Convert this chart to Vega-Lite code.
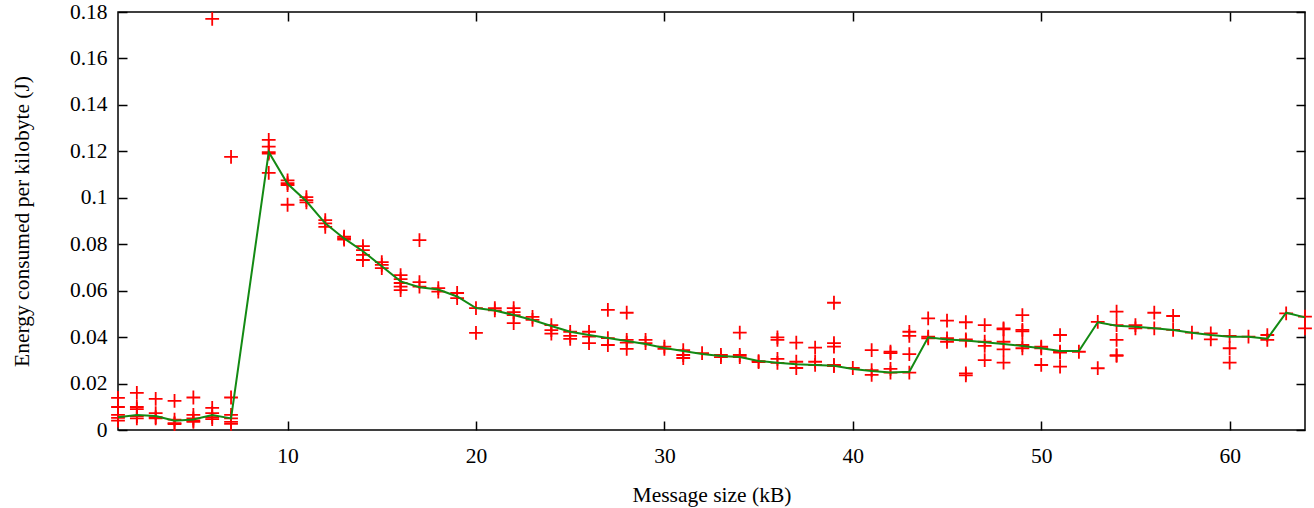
{
  "$schema": "https://vega.github.io/schema/vega-lite/v6.json",
  "autosize": "none",
  "width": 1187,
  "height": 418,
  "padding": {"left": 118, "top": 12, "right": 9, "bottom": 78},
  "background": "white",
  "config": {
    "view": {"stroke": "black", "strokeWidth": 1.5},
    "font": "Liberation Serif",
    "axis": {
      "labelFont": "Liberation Serif",
      "titleFont": "Liberation Serif",
      "labelFontSize": 21.5,
      "titleFontSize": 21.5,
      "titleFontWeight": "normal",
      "labelColor": "black",
      "titleColor": "black",
      "tickColor": "black",
      "tickWidth": 1.5,
      "grid": false,
      "domain": false
    }
  },
  "datasets": {
    "pts": [
      {"x": 1, "y": 0.0138}, {"x": 1, "y": 0.0099}, {"x": 1, "y": 0.0065}, {"x": 1, "y": 0.0052}, {"x": 1, "y": 0.004},
      {"x": 2, "y": 0.016}, {"x": 2, "y": 0.0099}, {"x": 2, "y": 0.009}, {"x": 2, "y": 0.006}, {"x": 2, "y": 0.005},
      {"x": 3, "y": 0.0134}, {"x": 3, "y": 0.0073}, {"x": 3, "y": 0.0055}, {"x": 3, "y": 0.005},
      {"x": 4, "y": 0.0125}, {"x": 4, "y": 0.0045}, {"x": 4, "y": 0.003}, {"x": 4, "y": 0.0025},
      {"x": 5, "y": 0.014}, {"x": 5, "y": 0.0065}, {"x": 5, "y": 0.005}, {"x": 5, "y": 0.004}, {"x": 5, "y": 0.0035},
      {"x": 6, "y": 0.177}, {"x": 6, "y": 0.0095}, {"x": 6, "y": 0.0073}, {"x": 6, "y": 0.0055}, {"x": 6, "y": 0.0047},
      {"x": 7, "y": 0.1176}, {"x": 7, "y": 0.014}, {"x": 7, "y": 0.0065}, {"x": 7, "y": 0.005}, {"x": 7, "y": 0.0035}, {"x": 7, "y": 0.0026},
      {"x": 9, "y": 0.1249}, {"x": 9, "y": 0.122}, {"x": 9, "y": 0.1197}, {"x": 9, "y": 0.119}, {"x": 9, "y": 0.1107},
      {"x": 10, "y": 0.1075}, {"x": 10, "y": 0.1063}, {"x": 10, "y": 0.1055}, {"x": 10, "y": 0.097},
      {"x": 11, "y": 0.1003}, {"x": 11, "y": 0.099}, {"x": 11, "y": 0.098},
      {"x": 12, "y": 0.0904}, {"x": 12, "y": 0.089}, {"x": 12, "y": 0.0875},
      {"x": 13, "y": 0.0833}, {"x": 13, "y": 0.0826}, {"x": 13, "y": 0.082},
      {"x": 14, "y": 0.0792}, {"x": 14, "y": 0.0775}, {"x": 14, "y": 0.0754}, {"x": 14, "y": 0.0732},
      {"x": 15, "y": 0.0723}, {"x": 15, "y": 0.0711}, {"x": 15, "y": 0.0697},
      {"x": 16, "y": 0.0667}, {"x": 16, "y": 0.065}, {"x": 16, "y": 0.0633}, {"x": 16, "y": 0.0617}, {"x": 16, "y": 0.0602},
      {"x": 17, "y": 0.0818}, {"x": 17, "y": 0.0637}, {"x": 17, "y": 0.0617},
      {"x": 18, "y": 0.0611}, {"x": 18, "y": 0.0596},
      {"x": 19, "y": 0.059}, {"x": 19, "y": 0.0568},
      {"x": 20, "y": 0.0525}, {"x": 20, "y": 0.0418},
      {"x": 21, "y": 0.0525}, {"x": 21, "y": 0.0515},
      {"x": 22, "y": 0.0525}, {"x": 22, "y": 0.0508}, {"x": 22, "y": 0.0495}, {"x": 22, "y": 0.046},
      {"x": 23, "y": 0.0487}, {"x": 23, "y": 0.0474},
      {"x": 24, "y": 0.0452}, {"x": 24, "y": 0.043}, {"x": 24, "y": 0.0415},
      {"x": 25, "y": 0.0423}, {"x": 25, "y": 0.0405}, {"x": 25, "y": 0.0392},
      {"x": 26, "y": 0.0423}, {"x": 26, "y": 0.0402}, {"x": 26, "y": 0.0374},
      {"x": 27, "y": 0.0517}, {"x": 27, "y": 0.0396}, {"x": 27, "y": 0.0366},
      {"x": 28, "y": 0.0505}, {"x": 28, "y": 0.0388}, {"x": 28, "y": 0.0376}, {"x": 28, "y": 0.0349},
      {"x": 29, "y": 0.0388}, {"x": 29, "y": 0.0374},
      {"x": 30, "y": 0.0359}, {"x": 30, "y": 0.0349},
      {"x": 31, "y": 0.0344}, {"x": 31, "y": 0.0323}, {"x": 31, "y": 0.031},
      {"x": 32, "y": 0.0331},
      {"x": 33, "y": 0.0323}, {"x": 33, "y": 0.0314},
      {"x": 34, "y": 0.0419}, {"x": 34, "y": 0.0323}, {"x": 34, "y": 0.0314},
      {"x": 35, "y": 0.0297}, {"x": 35, "y": 0.0292},
      {"x": 36, "y": 0.0399}, {"x": 36, "y": 0.0388}, {"x": 36, "y": 0.0306}, {"x": 36, "y": 0.0289},
      {"x": 37, "y": 0.0376}, {"x": 37, "y": 0.0294}, {"x": 37, "y": 0.0267},
      {"x": 38, "y": 0.0355}, {"x": 38, "y": 0.0294}, {"x": 38, "y": 0.028},
      {"x": 39, "y": 0.0548}, {"x": 39, "y": 0.0374}, {"x": 39, "y": 0.0359}, {"x": 39, "y": 0.028}, {"x": 39, "y": 0.0275},
      {"x": 40, "y": 0.0267},
      {"x": 41, "y": 0.0344}, {"x": 41, "y": 0.0258}, {"x": 41, "y": 0.0237},
      {"x": 42, "y": 0.0337}, {"x": 42, "y": 0.0331}, {"x": 42, "y": 0.0263}, {"x": 42, "y": 0.0247},
      {"x": 43, "y": 0.0423}, {"x": 43, "y": 0.0405}, {"x": 43, "y": 0.0327}, {"x": 43, "y": 0.0247},
      {"x": 44, "y": 0.0481}, {"x": 44, "y": 0.0402}, {"x": 44, "y": 0.0395},
      {"x": 45, "y": 0.0471}, {"x": 45, "y": 0.0395}, {"x": 45, "y": 0.038},
      {"x": 46, "y": 0.0464}, {"x": 46, "y": 0.039}, {"x": 46, "y": 0.0385}, {"x": 46, "y": 0.0244}, {"x": 46, "y": 0.0235},
      {"x": 47, "y": 0.0452}, {"x": 47, "y": 0.038}, {"x": 47, "y": 0.0362}, {"x": 47, "y": 0.0301},
      {"x": 48, "y": 0.0438}, {"x": 48, "y": 0.0433}, {"x": 48, "y": 0.038}, {"x": 48, "y": 0.0347}, {"x": 48, "y": 0.029},
      {"x": 49, "y": 0.0495}, {"x": 49, "y": 0.0431}, {"x": 49, "y": 0.0425}, {"x": 49, "y": 0.0366}, {"x": 49, "y": 0.0352},
      {"x": 50, "y": 0.0359}, {"x": 50, "y": 0.0352}, {"x": 50, "y": 0.028},
      {"x": 51, "y": 0.0409}, {"x": 51, "y": 0.0337}, {"x": 51, "y": 0.0333}, {"x": 51, "y": 0.0273},
      {"x": 52, "y": 0.0337},
      {"x": 53, "y": 0.0466}, {"x": 53, "y": 0.0266},
      {"x": 54, "y": 0.051}, {"x": 54, "y": 0.0452}, {"x": 54, "y": 0.0388}, {"x": 54, "y": 0.0322}, {"x": 54, "y": 0.0319},
      {"x": 55, "y": 0.0452}, {"x": 55, "y": 0.0438},
      {"x": 56, "y": 0.0505}, {"x": 56, "y": 0.0438},
      {"x": 57, "y": 0.0491}, {"x": 57, "y": 0.0431},
      {"x": 58, "y": 0.0419},
      {"x": 59, "y": 0.0416}, {"x": 59, "y": 0.039},
      {"x": 60, "y": 0.0405}, {"x": 60, "y": 0.0352}, {"x": 60, "y": 0.029},
      {"x": 61, "y": 0.0402},
      {"x": 62, "y": 0.0409}, {"x": 62, "y": 0.0388},
      {"x": 63, "y": 0.0502},
      {"x": 64, "y": 0.0488}, {"x": 64, "y": 0.0438}
    ],
    "med": [
      {"x": 1, "y": 0.0055}, {"x": 2, "y": 0.0065}, {"x": 3, "y": 0.006}, {"x": 4, "y": 0.004},
      {"x": 5, "y": 0.0045}, {"x": 6, "y": 0.0065}, {"x": 7, "y": 0.005}, {"x": 9, "y": 0.1197},
      {"x": 10, "y": 0.106}, {"x": 11, "y": 0.0985}, {"x": 12, "y": 0.089}, {"x": 13, "y": 0.0825},
      {"x": 14, "y": 0.077}, {"x": 15, "y": 0.0705}, {"x": 16, "y": 0.064}, {"x": 17, "y": 0.0615},
      {"x": 18, "y": 0.0605}, {"x": 19, "y": 0.0575}, {"x": 20, "y": 0.0525}, {"x": 21, "y": 0.0515},
      {"x": 22, "y": 0.0495}, {"x": 23, "y": 0.0474}, {"x": 24, "y": 0.0448}, {"x": 25, "y": 0.0423},
      {"x": 26, "y": 0.0409}, {"x": 27, "y": 0.0396}, {"x": 28, "y": 0.0383}, {"x": 29, "y": 0.037},
      {"x": 30, "y": 0.0353}, {"x": 31, "y": 0.034}, {"x": 32, "y": 0.0327}, {"x": 33, "y": 0.0319},
      {"x": 34, "y": 0.0314}, {"x": 35, "y": 0.0297}, {"x": 36, "y": 0.029}, {"x": 37, "y": 0.0283},
      {"x": 38, "y": 0.028}, {"x": 39, "y": 0.0277}, {"x": 40, "y": 0.0263}, {"x": 41, "y": 0.0254},
      {"x": 42, "y": 0.0248}, {"x": 43, "y": 0.0251}, {"x": 44, "y": 0.0399}, {"x": 45, "y": 0.039},
      {"x": 46, "y": 0.0385}, {"x": 47, "y": 0.0378}, {"x": 48, "y": 0.037}, {"x": 49, "y": 0.0362},
      {"x": 50, "y": 0.0352}, {"x": 51, "y": 0.034}, {"x": 52, "y": 0.034}, {"x": 53, "y": 0.0464},
      {"x": 54, "y": 0.0449}, {"x": 55, "y": 0.0445}, {"x": 56, "y": 0.0438}, {"x": 57, "y": 0.0431},
      {"x": 58, "y": 0.0419}, {"x": 59, "y": 0.0409}, {"x": 60, "y": 0.0402}, {"x": 61, "y": 0.0402},
      {"x": 62, "y": 0.0393}, {"x": 63, "y": 0.0505}, {"x": 64, "y": 0.0485}
    ]
  },
  "layer": [
    {
      "data": {"name": "pts"},
      "mark": {
        "type": "point",
        "shape": "M-1,0L1,0M0,-1L0,1",
        "filled": false,
        "stroke": "#ff0000",
        "strokeWidth": 1.8,
        "size": 190,
        "opacity": 1
      },
      "encoding": {
        "x": {
          "field": "x", "type": "quantitative",
          "scale": {"domain": [1, 64], "nice": false, "zero": false},
          "axis": {"orient": "bottom", "title": "Message size (kB)", "values": [10, 20, 30, 40, 50, 60],
                   "tickSize": -9, "labelPadding": 24, "titlePadding": 18}
        },
        "y": {
          "field": "y", "type": "quantitative",
          "scale": {"domain": [0, 0.18], "nice": false, "zero": true},
          "axis": {"orient": "left", "title": "Energy consumed per kilobyte (J)",
                   "values": [0, 0.02, 0.04, 0.06, 0.08, 0.1, 0.12, 0.14, 0.16, 0.18],
                   "format": "~g", "tickSize": -9, "labelPadding": 20, "titlePadding": 36}
        }
      }
    },
    {
      "data": {"name": "med"},
      "mark": {"type": "line", "color": "#138a13", "strokeWidth": 2},
      "encoding": {
        "x": {
          "field": "x", "type": "quantitative",
          "scale": {"domain": [1, 64], "nice": false, "zero": false},
          "axis": {"orient": "top", "title": null, "labels": false, "values": [10, 20, 30, 40, 50, 60], "tickSize": -9}
        },
        "y": {
          "field": "y", "type": "quantitative",
          "scale": {"domain": [0, 0.18], "nice": false, "zero": true},
          "axis": {"orient": "right", "title": null, "labels": false,
                   "values": [0, 0.02, 0.04, 0.06, 0.08, 0.1, 0.12, 0.14, 0.16, 0.18], "tickSize": -9}
        }
      }
    }
  ],
  "resolve": {"axis": {"x": "independent", "y": "independent"}}
}
